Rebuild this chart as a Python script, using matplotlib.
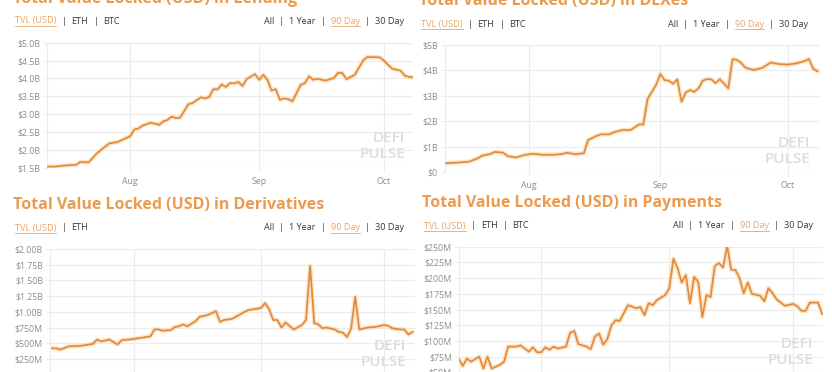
import matplotlib.pyplot as plt
from matplotlib.lines import Line2D

# Datos (dias desde el 1 de agosto)
lend_days = [-20, -18, -16, -13, -12, -10, -8, -7, -5, -3, 0, 1, 2, 3, 5, 7, 8, 9, 10, 11, 12, 14, 15,
             17, 18, 19, 20, 21, 22, 23, 24, 25, 26, 27, 28, 30, 31, 32, 33, 34, 35, 36, 37, 38, 39,
             41, 42, 43, 44, 45, 47, 48, 49, 50, 51, 52, 54, 55, 56, 57, 60, 61, 62, 63, 65, 66, 67, 68]
lend_vals = [1.53, 1.53, 1.56, 1.58, 1.66, 1.65, 1.90, 2.00, 2.18, 2.22, 2.38, 2.57, 2.60, 2.68, 2.76,
             2.70, 2.80, 2.84, 2.93, 2.89, 2.90, 3.28, 3.31, 3.47, 3.44, 3.48, 3.70, 3.69, 3.83, 3.76,
             3.87, 3.86, 3.90, 3.79, 3.98, 4.12, 3.96, 4.10, 3.96, 3.66, 3.70, 3.40, 3.44, 3.42, 3.36,
             3.82, 3.87, 4.06, 3.96, 3.99, 3.94, 3.98, 4.01, 4.16, 4.15, 3.98, 4.10, 4.30, 4.50, 4.60,
             4.59, 4.50, 4.38, 4.27, 4.22, 4.08, 4.04, 4.03]

dex_days = [-20, -17, -16, -14, -12, -11, -9, -8, -6, -5, -3, -1, 1, 3, 6, 8, 9, 11, 13, 14, 16, 17,
            19, 20, 22, 24, 25, 26, 27, 28, 30, 31, 32, 33, 34, 35, 36, 37, 38, 39, 40, 41, 42, 43,
            44, 45, 46, 47, 48, 49, 50, 51, 52, 53, 55, 57, 59, 61, 63, 65, 66, 67, 68]
dex_vals = [0.35, 0.38, 0.39, 0.42, 0.55, 0.65, 0.72, 0.80, 0.77, 0.64, 0.58, 0.68, 0.73, 0.69, 0.69,
            0.72, 0.77, 0.71, 0.75, 1.27, 1.43, 1.49, 1.49, 1.57, 1.66, 1.66, 1.77, 1.88, 1.88, 2.88,
            3.43, 3.86, 3.62, 3.60, 3.48, 3.65, 2.77, 3.14, 3.23, 3.16, 3.30, 3.60, 3.66, 3.65, 3.50,
            3.66, 3.48, 3.30, 4.44, 4.42, 4.30, 4.12, 4.06, 4.02, 4.10, 4.31, 4.25, 4.23, 4.28, 4.37,
            4.45, 4.07, 3.97]

der_days = [-20, -19, -18, -16, -13, -10, -9, -8, -6, -4, -3, -1, 2, 4, 5, 6, 7, 9, 10, 11, 12, 13,
            15, 16, 18, 20, 21, 22, 24, 27, 28, 30, 31, 32, 33, 34, 35, 36, 37, 39, 41, 42, 43, 44,
            45, 46, 47, 49, 50, 51, 52, 53, 54, 55, 57, 59, 61, 62, 63, 65, 66, 67, 68]
der_vals = [0.42, 0.42, 0.40, 0.45, 0.46, 0.49, 0.56, 0.53, 0.56, 0.48, 0.55, 0.56, 0.59, 0.61, 0.72,
            0.72, 0.70, 0.71, 0.76, 0.77, 0.80, 0.77, 0.85, 0.92, 0.95, 1.01, 0.84, 0.87, 0.89, 1.00,
            1.03, 1.05, 1.06, 1.14, 1.04, 0.87, 0.87, 0.75, 0.83, 0.72, 0.79, 0.87, 1.73, 0.82, 0.80,
            0.74, 0.75, 0.72, 0.68, 0.67, 0.60, 0.73, 1.24, 0.72, 0.75, 0.76, 0.79, 0.78, 0.74, 0.72,
            0.72, 0.64, 0.68]

pay_days = [-20, -19, -18, -17, -15, -14, -13, -12, -10, -9, -8, -6, -5, -3, -2, -1, 0, 1, 2, 3, 4,
            6, 7, 8, 9, 11, 12, 13, 14, 15, 16, 17, 18, 19, 21, 23, 24, 25, 26, 27, 28, 30, 31, 32,
            33, 34, 35, 36, 37, 38, 39, 40, 41, 42, 43, 44, 45, 46, 47, 48, 49, 50, 51, 53, 54, 55,
            56, 57, 59, 61, 62, 63, 64, 65, 67, 68]
pay_vals = [72, 60, 72, 67, 75, 56, 75, 56, 62, 67, 91, 91, 93, 83, 90, 82, 82, 90, 86, 91, 88, 91,
            113, 116, 95, 91, 87, 107, 112, 94, 103, 125, 133, 132, 157, 152, 154, 141, 160, 157, 165,
            173, 184, 231, 216, 193, 205, 160, 202, 194, 138, 173, 170, 219, 224, 217, 251, 213, 213,
            200, 176, 193, 175, 172, 163, 184, 176, 166, 156, 159, 155, 148, 148, 161, 161, 143]

month_days = [0, 31, 61]
month_labels = ['Aug', 'Sep', 'Oct']

lend_ticks = [1.5, 2.0, 2.5, 3.0, 3.5, 4.0, 4.5, 5.0]
lend_labels = ['$1.5B', '$2.0B', '$2.5B', '$3.0B', '$3.5B', '$4.0B', '$4.5B', '$5.0B']
dex_ticks = [0, 1, 2, 3, 4, 5]
dex_labels = ['$0', '$1B', '$2B', '$3B', '$4B', '$5B']
der_ticks = [0, 0.25, 0.5, 0.75, 1.0, 1.25, 1.5, 1.75, 2.0]
der_labels = ['$0', '$250M', '$500M', '$750M', '$1.00B', '$1.25B', '$1.50B', '$1.75B', '$2.00B']
pay_ticks = [0, 25, 50, 75, 100, 125, 150, 175, 200, 225, 250]
pay_labels = ['$0', '$25M', '$50M', '$75M', '$100M', '$125M', '$150M', '$175M', '$200M',
              '$225M', '$250M']

# Colores
NARANJA = '#e2883c'
HALO = '#fbd6a8'
TITULO = '#ec9b4e'
ENLACE = '#e9a56a'
OSCURO = '#3a3a3a'
GRIS = '#8c8c8c'
REJILLA = '#ececec'
MARCA = '#dcdcdc'

plt.rcParams['font.family'] = ['Open Sans', 'DejaVu Sans']

W, H = 832, 372
fig = plt.figure(figsize=(W / 100, H / 100), dpi=100)
fig.patch.set_facecolor('white')
rend = fig.canvas.get_renderer()


def fila(x, y, partes, derecha=False):
    # Fila de enlaces tipo "TVL (USD) | ETH | BTC"
    gap = 5
    objs = []
    for s, c in partes:
        objs.append(fig.text(0, 1 - y / H, s, fontsize=6.6, color=c, va='center', ha='left'))
    anchos = [o.get_window_extent(rend).width for o in objs]
    total = sum(anchos) + gap * (len(partes) - 1)
    x0 = x - total if derecha else x
    for o, w, (s, c) in zip(objs, anchos, partes):
        o.set_x(x0 / W)
        if c == ENLACE:
            fig.add_artist(Line2D([x0 / W, (x0 + w) / W], [1 - (y + 4.5) / H] * 2,
                                  transform=fig.transFigure, color=ENLACE, lw=0.6))
        x0 += w + gap


def panel(caja, dias, vals, ticks, labels, xlim, titulo, tpos, fila_izq, fila_y, fila_der, marca,
          con_meses=True):
    izq, arriba, der, abajo = caja
    ax = fig.add_axes([izq / W, 1 - abajo / H, (der - izq) / W, (abajo - arriba) / H])
    ax.plot(dias, vals, color=HALO, lw=3.2, alpha=0.7, solid_capstyle='round', zorder=2)
    ax.plot(dias, vals, color=NARANJA, lw=1.2, zorder=3)
    ax.set_xlim(xlim)
    ax.set_ylim(ticks[0], ticks[-1])
    ax.set_yticks(ticks, labels)
    ax.set_xticks(month_days, month_labels)
    ax.grid(True, color=REJILLA, lw=0.8)
    ax.set_axisbelow(True)
    for lado in ['top', 'right', 'bottom']:
        ax.spines[lado].set_visible(False)
    ax.spines['left'].set_color(REJILLA)
    ax.tick_params(axis='y', length=3, color=REJILLA, pad=2, labelsize=6.3, labelcolor=GRIS)
    ax.tick_params(axis='x', length=3, color=REJILLA, pad=3.5, labelsize=6.3, labelcolor=GRIS,
                   labelbottom=con_meses)
    # Marca de agua
    fig.text(marca[0] / W, 1 - marca[1] / H, 'DEFI', fontsize=11, fontweight='semibold',
             color=MARCA, ha='right', va='center', zorder=1)
    fig.text(marca[0] / W, 1 - (marca[1] + 16) / H, 'PULSE', fontsize=11, fontweight='semibold',
             color=MARCA, ha='right', va='center', zorder=1)
    # Titulo y filas de enlaces
    fig.text(tpos[0] / W, 1 - tpos[1] / H, titulo, fontsize=11.5, fontweight='bold',
             color=TITULO, ha='left', va='baseline')
    fila(fila_izq[0], fila_y, fila_izq[1])
    fila(fila_der, fila_y, [('All', OSCURO), ('|', OSCURO), ('1 Year', OSCURO), ('|', OSCURO),
                            ('90 Day', ENLACE), ('|', OSCURO), ('30 Day', OSCURO)], derecha=True)
    return ax


tvl3 = [('TVL (USD)', ENLACE), ('|', OSCURO), ('ETH', OSCURO), ('|', OSCURO), ('BTC', OSCURO)]
tvl2 = [('TVL (USD)', ENLACE), ('|', OSCURO), ('ETH', OSCURO)]

panel((47, 42.7, 413, 167.7), lend_days, lend_vals, lend_ticks, lend_labels, (-20, 68),
      'Total Value Locked (USD) in Lending', (13, 3), (15, tvl3), 21, 404, (405, 138))
panel((445, 45, 820, 172.3), dex_days, dex_vals, dex_ticks, dex_labels, (-19.7, 68.6),
      'Total Value Locked (USD) in DEXes', (419, 5.3), (421, tvl3), 24.5, 808, (810, 143))
panel((50, 249, 415, 374.7), der_days, der_vals, der_ticks, der_labels, (-20.5, 68.6),
      'Total Value Locked (USD) in Derivatives', (13, 209), (15, tvl2), 228, 404, (406, 346),
      con_meses=False)
panel((459, 246.7, 823, 403.8), pay_days, pay_vals, pay_ticks, pay_labels, (-19.9, 68.2),
      'Total Value Locked (USD) in Payments', (422, 207.5), (424, tvl3), 226, 813, (813, 344),
      con_meses=False)

plt.savefig('out.png', dpi=100)
